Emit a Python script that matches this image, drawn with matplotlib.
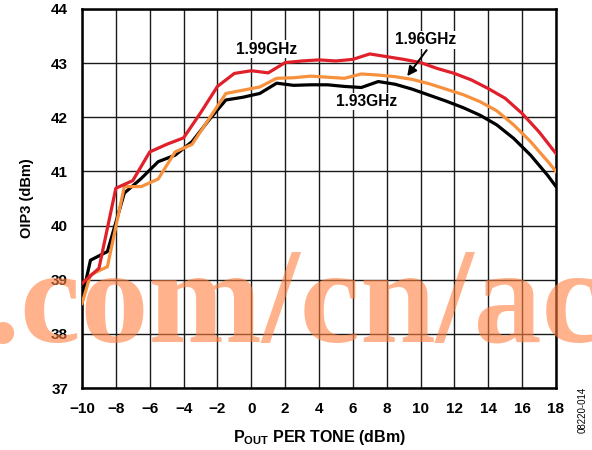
import matplotlib
matplotlib.use("Agg")
import matplotlib.pyplot as plt

plt.rcParams['font.family'] = ['Liberation Sans', 'DejaVu Sans']
plt.rcParams['mathtext.fontset'] = 'custom'
plt.rcParams['mathtext.rm'] = 'Liberation Sans:bold'
plt.rcParams['mathtext.bf'] = 'Liberation Sans:bold'

# 1.99 GHz (red)
x_199 = [-10, -9, -8, -7, -6, -5, -4, -3, -2, -1, 0, 1, 2, 3, 4, 5, 6, 7, 8, 9,
         10, 11, 12, 13, 14, 15, 16, 17, 18]
y_199 = [38.93, 39.21, 40.69, 40.83, 41.36, 41.50, 41.62, 42.08, 42.57, 42.81,
         42.86, 42.82, 43.01, 43.04, 43.06, 43.04, 43.07, 43.17, 43.12, 43.07,
         43.01, 42.90, 42.81, 42.69, 42.53, 42.35, 42.07, 41.73, 41.33]

# 1.96 GHz (orange)
x_196 = [-10, -9.5, -8.5, -7.5, -6.5, -5.5, -4.5, -3.5, -2.5, -1.5, -0.5, 0.5,
         1.5, 2.5, 3.5, 4.5, 5.5, 6.5, 7.5, 8.5, 9.5, 10.5, 11.5, 12.5, 13.5,
         14.5, 15.5, 16.5, 17.5, 18]
y_196 = [38.56, 39.09, 39.24, 40.72, 40.72, 40.86, 41.36, 41.50, 41.97, 42.44,
         42.50, 42.56, 42.72, 42.73, 42.76, 42.74, 42.72, 42.80, 42.78, 42.75,
         42.70, 42.62, 42.52, 42.42, 42.29, 42.12, 41.86, 41.55, 41.19, 41.00]

# 1.93 GHz (black)
x_193 = [-10, -9.5, -8.5, -7.5, -6.5, -5.5, -4.5, -3.5, -2.5, -1.5, -0.5, 0.5,
         1.5, 2.5, 3.5, 4.5, 5.5, 6.5, 7.5, 8.5, 9.5, 10.5, 11.5, 12.5, 13.5,
         14.5, 15.5, 16.5, 17.5, 18]
y_193 = [38.66, 39.36, 39.52, 40.60, 40.87, 41.18, 41.30, 41.55, 41.95, 42.32,
         42.37, 42.44, 42.63, 42.59, 42.60, 42.60, 42.57, 42.55, 42.66, 42.61,
         42.52, 42.41, 42.30, 42.18, 42.04, 41.86, 41.61, 41.30, 40.93, 40.72]

x_ticks = list(range(-10, 19, 2))
y_ticks = list(range(37, 45))

fig = plt.figure(figsize=(5.92, 4.5), dpi=100)
ax = fig.add_axes([82/592, 1-388/450, 474/592, 379/450])

ax.plot(x_193, y_193, color='black', lw=2.3, zorder=3)
ax.plot(x_196, y_196, color='#F7913D', lw=2.3, zorder=3)
ax.plot(x_199, y_199, color='#E0202A', lw=2.3, zorder=3)

ax.set_xlim(-10, 18)
ax.set_ylim(37, 44)
ax.set_xticks(x_ticks)
ax.set_yticks(y_ticks)
ax.grid(True, color='#1a1a1a', lw=1.0, zorder=1)
ax.set_axisbelow(True)
ax.tick_params(length=0, labelsize=11, pad=10)
for lab in ax.get_xticklabels() + ax.get_yticklabels():
    lab.set_fontweight('bold')
for s in ax.spines.values():
    s.set_linewidth(1.8)
    s.set_color('black')

box = dict(facecolor='white', edgecolor='none', pad=1.0)
ax.text(0.93, 43.26, '1.99GHz', ha='center', va='center', fontsize=11.2,
        fontweight='bold', bbox=box, zorder=4)
ax.text(10.32, 43.43, '1.96GHz', ha='center', va='center', fontsize=11.2,
        fontweight='bold', bbox=box, zorder=4)
ax.text(6.83, 42.29, '1.93GHz', ha='center', va='center', fontsize=11.2,
        fontweight='bold', bbox=box, zorder=4)
ax.annotate('', xy=(9.21, 42.76), xytext=(10.36, 43.24),
            arrowprops=dict(arrowstyle='-|>', color='black', lw=1.4,
                            mutation_scale=14, shrinkA=0, shrinkB=0), zorder=5)

ax.set_ylabel('OIP3 (dBm)', fontsize=10.5, fontweight='bold', labelpad=12)
ax.set_xlabel(r'P$_{\mathbf{OUT}}$ PER TONE (dBm)', fontsize=11.5,
              fontweight='bold', labelpad=9)

fig.text(583/592, 1-410/450, '08220-014', rotation=90, ha='center',
         va='center', fontsize=7)

# watermark
fig.text(-14/592, 1-342/450, '.com/cn/ac', family='Liberation Serif',
         fontweight='bold', fontsize=98, color=(1.0, 0.5, 0.25), alpha=0.6,
         ha='left', va='baseline', zorder=10)

fig.savefig('out.png', dpi=100)
